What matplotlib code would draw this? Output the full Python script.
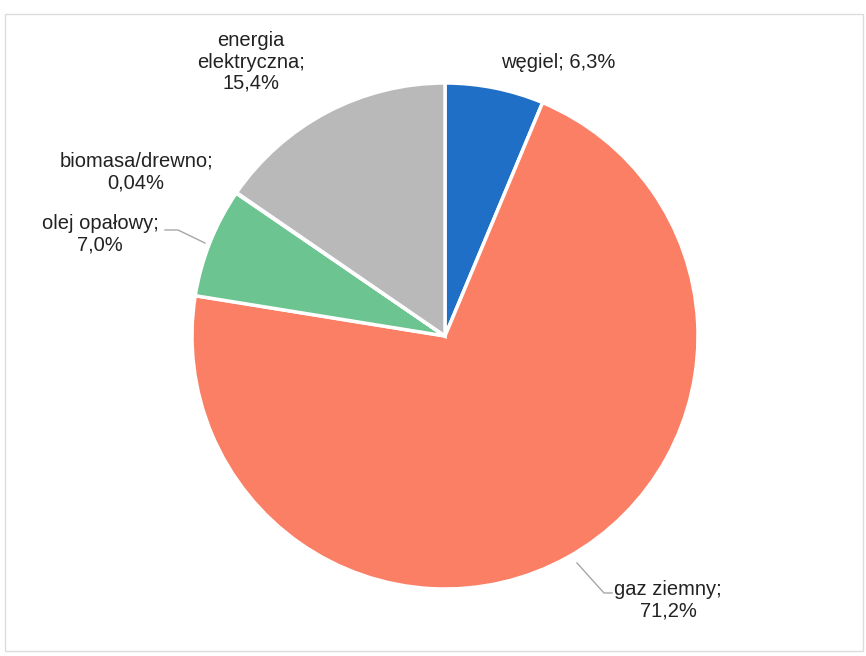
import matplotlib.pyplot as plt
from matplotlib.patches import Rectangle

# Struktura zużycia nośników energii
names = ['węgiel', 'gaz ziemny', 'olej opałowy', 'biomasa/drewno', 'energia elektryczna']
shares = [6.3, 71.2, 7.0, 0.04, 15.4]
decimals = [1, 1, 1, 2, 1]
colors = ['#1f6fc6', '#fa7f64', '#6cc490', '#8fb0d8', '#b9b9b9']

plt.rcParams['font.family'] = ['Liberation Sans', 'DejaVu Sans']


def pct(v, d):
    return f'{v:.{d}f}'.replace('.', ',') + '%'


W, H = 866, 656
cx, cy, r = 445, 336, 253

fig = plt.figure(figsize=(W / 100, H / 100), dpi=100)
ax = fig.add_axes([0, 0, 1, 1])

ax.pie(shares, colors=colors, startangle=90, counterclock=False, radius=1,
       wedgeprops=dict(edgecolor='white', linewidth=2.5))

# pie() resets the limits, so fix them afterwards
ax.set_xlim(-cx / r, (W - cx) / r)
ax.set_ylim(-(H - cy) / r, cy / r)
ax.set_aspect('equal')
ax.axis('off')


def px(x, y):
    # pixel position -> data coordinates
    return (x - cx) / r, (cy - y) / r


fs = 14.5
labels = [
    (px(558, 62), f'{names[0]}; {pct(shares[0], decimals[0])}'),
    (px(668, 600), f'{names[1]};\n{pct(shares[1], decimals[1])}'),
    (px(100, 234), f'{names[2]};\n{pct(shares[2], decimals[2])}'),
    (px(136, 172), f'{names[3]};\n{pct(shares[3], decimals[3])}'),
    (px(251, 62), 'energia\nelektryczna;\n' + pct(shares[4], decimals[4])),
]
for (x, y), txt in labels:
    ax.text(x, y, txt, ha='center', va='center', fontsize=fs, color='#222222',
            linespacing=1.15)

# linie odniesienia
lx, ly = zip(px(577, 563), px(604, 593), px(612, 593))
ax.plot(lx, ly, color='#a6a6a6', lw=1)
lx, ly = zip(px(165, 230), px(178, 230), px(205, 243))
ax.plot(lx, ly, color='#a6a6a6', lw=1)

# ramka wykresu
fig.patches.append(Rectangle((5 / W, 1 - 651 / H), 858 / W, 637 / H,
                             transform=fig.transFigure, fill=False,
                             edgecolor='#dcdcdc', lw=1))

fig.savefig('out.png', dpi=100, facecolor='white')
